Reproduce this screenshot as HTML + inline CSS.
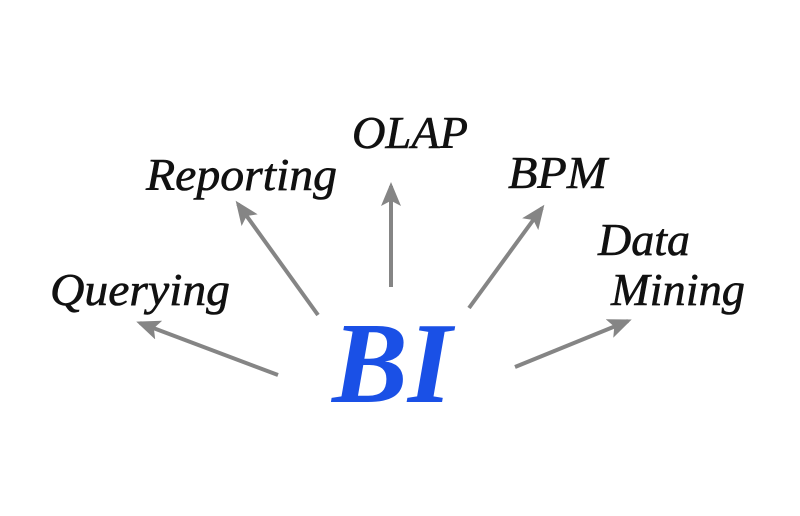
<!DOCTYPE html>
<html><head><style>
body{margin:0;width:800px;height:511px;background:#fff;overflow:hidden}
svg text{font-family:"Liberation Serif",serif;font-style:italic}
</style></head><body>
<svg width="800" height="511" viewBox="0 0 800 511">
<defs><marker id="a" markerWidth="6" markerHeight="5" refX="5" refY="2.5" orient="auto" markerUnits="strokeWidth">
<path d="M0,0 L6,2.5 L0,5 L1.3,2.5Z" fill="#858585"/></marker></defs>
<g stroke="#858585" stroke-width="4" marker-end="url(#a)" fill="none">
<line x1="278" y1="375" x2="140" y2="323"/>
<line x1="318" y1="315" x2="238" y2="204"/>
<line x1="391" y1="287" x2="391" y2="186"/>
<line x1="469" y1="308" x2="542" y2="208"/>
<line x1="515" y1="367" x2="628" y2="321"/>
</g>
<g fill="#111" font-size="46" stroke="#111" stroke-width="0.6" lengthAdjust="spacingAndGlyphs">
<text x="352" y="148" textLength="116" lengthAdjust="spacingAndGlyphs">OLAP</text>
<text x="146" y="190" textLength="191" lengthAdjust="spacingAndGlyphs">Reporting</text>
<text x="508" y="188" textLength="99" lengthAdjust="spacingAndGlyphs">BPM</text>
<text x="598" y="255" textLength="92" lengthAdjust="spacingAndGlyphs">Data</text>
<text x="611" y="305" textLength="134" lengthAdjust="spacingAndGlyphs">Mining</text>
<text x="50" y="305" textLength="180" lengthAdjust="spacingAndGlyphs">Querying</text>
</g>
<text x="332" y="402" font-size="116" font-weight="bold" fill="#1a50e6" textLength="120" lengthAdjust="spacingAndGlyphs">BI</text>
</svg>
</body></html>
